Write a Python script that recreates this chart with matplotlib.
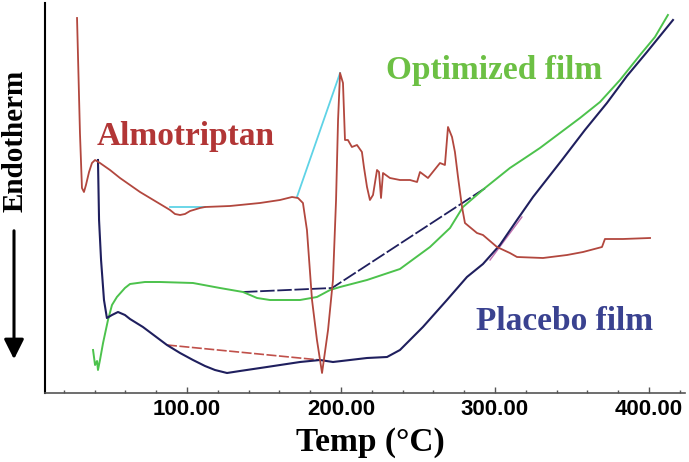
import matplotlib
matplotlib.use("Agg")
import matplotlib.pyplot as plt

# ---------------- data (temperature in °C, heat flow in arbitrary units) -------------
almo_T = [28.6, 30.5, 31.8, 33.1, 34.4, 36.4, 38.3, 40.3, 43.5, 50.0, 56.5, 63.0, 69.5,
          76.0, 82.5, 89.0, 92.2, 95.5, 98.7, 102.0, 108.4, 111.7, 127.9, 147.4, 160.4,
          168.2, 172.1, 175.3, 177.9, 181.2, 184.4, 187.7, 191.6, 194.8, 196.8, 198.1,
          199.4, 201.3, 202.6, 204.5, 207.1, 210.4, 213.6, 214.9, 216.9, 218.8, 220.8,
          223.4, 224.7, 226.0, 227.3, 231.8, 238.3, 244.8, 249.4, 251.3, 256.5, 264.3,
          267.5, 269.5, 272.1, 274.0, 276.0, 278.6, 280.5, 288.3, 292.2, 301.3, 309.7,
          314.3, 331.2, 346.8, 357.2, 369.5, 371.4, 383.1, 400.7]
almo_H = [375, 260, 205, 201, 208, 221, 230, 233, 230, 223, 215, 208, 201,
          195, 189, 183, 179, 178, 179, 182, 185, 186, 187, 190, 193,
          196, 195, 190, 163, 93, 53, 20, 63, 113, 193, 273,
          320, 310, 253, 253, 246, 248, 241, 226, 206, 193, 198,
          223, 221, 195, 220, 215, 213, 213, 211, 221, 215, 230,
          228, 266, 256, 241, 216, 186, 170, 160, 158, 146, 140,
          136, 135, 138, 141, 146, 154, 154, 155]

opt_T = [39.0, 40.3, 41.6, 42.2, 43.5, 45.5, 48.7, 51.3, 54.5, 59.7, 63.0, 72.7, 82.5,
         103.9, 121.4, 136.4, 145.5, 153.9, 173.4, 184.4, 192.9, 199.4, 216.9, 238.3,
         257.8, 270.8, 279.2, 293.5, 309.7, 319.5, 329.2, 342.2, 355.2, 368.2, 381.2,
         394.2, 403.9, 412.3]
opt_H = [43, 28, 32, 23, 33, 50, 73, 88, 96, 105, 109, 111, 111,
         110, 105, 101, 95, 93, 93, 96, 103, 106, 113, 124,
         146, 165, 186, 205, 225, 235, 245, 260, 275, 291, 313,
         338, 356, 378]

plac_T = [42.2, 42.9, 44.2, 46.1, 48.0, 51.3, 55.2, 59.7, 63.0, 71.4, 79.2, 87.0, 95.5,
          103.9, 111.7, 118.2, 126.0, 134.4, 151.9, 173.4, 186.4, 194.8, 216.9, 229.9,
          238.3, 253.2, 268.8, 281.8, 292.2, 303.2, 314.3, 324.7, 343.5, 358.4, 372.7,
          385.7, 398.7, 415.6]
plac_H = [233, 173, 133, 93, 75, 78, 81, 78, 74, 66, 57, 48, 40,
          33, 27, 23, 20, 22, 26, 31, 33, 31, 35, 36,
          43, 66, 93, 116, 129, 148, 173, 196, 233, 263, 290,
          317, 341, 373]

# software baseline / integration lines
opt_base_T = [136.4, 194.2, 294.8]
opt_base_H = [101, 105, 206]
plac_base_T = [87.0, 186.4]
plac_base_H = [48, 33]
almo_base1_T = [89.0, 111.7]
almo_base1_H = [186, 186]
almo_base2_T = [171.4, 199.4]
almo_base2_H = [196, 320]
plac_base2_T = [296.8, 317.5]
plac_base2_H = [133, 176]

major_ticks = [100, 200, 300, 400]
major_labels = ["100.00", "200.00", "300.00", "400.00"]
minor_ticks = list(range(20, 440, 20))

# ---------------- figure ----------------
W, H = 689, 462
fig = plt.figure(figsize=(W / 100, H / 100), dpi=100)
ax = fig.add_axes([45 / W, (H - 393) / H, 640 / W, 390 / H])

RED = "#b2473e"
GREEN = "#4cc24c"
NAVY = "#1f1f5e"
CYAN = "#5fd3e6"

ax.plot(almo_base1_T, almo_base1_H, color=CYAN, lw=1.3)
ax.plot(almo_base2_T, almo_base2_H, color=CYAN, lw=1.3)
ax.plot(plac_base_T, plac_base_H, color="#c0504a", lw=1.2, ls=(0, (6, 1.5)))
ax.plot(plac_base2_T, plac_base2_H, color="#c070b0", lw=1.0)
ax.plot(opt_base_T, opt_base_H, color=NAVY, lw=1.3, ls=(0, (8, 1.5)))

ax.plot(opt_T, opt_H, color=GREEN, lw=1.4)
ax.plot(plac_T, plac_H, color=NAVY, lw=1.5)
ax.plot(almo_T, almo_H, color=RED, lw=1.3)

ax.text(99.4, 256, "Almotriptan", color="#b23636", fontsize=24, fontweight="bold",
        family="Liberation Serif", ha="center", va="center")
ax.text(299.4, 322, "Optimized film", color="#6cc044", fontsize=24, fontweight="bold",
        family="Liberation Serif", ha="center", va="center")
ax.text(345.5, 71, "Placebo film", color="#3a4290", fontsize=24, fontweight="bold",
        family="Liberation Serif", ha="center", va="center")

ax.set_xlim(7.8, 423.4)
ax.set_ylim(0, 390)
ax.set_xticks(major_ticks)
ax.set_xticklabels(major_labels)
ax.set_xticks(minor_ticks, minor=True)
ax.set_yticks([])
for lbl in ax.get_xticklabels():
    lbl.set_fontfamily("Liberation Sans")
    lbl.set_fontweight("bold")
    lbl.set_fontsize(16)
ax.tick_params(axis="x", which="major", direction="in", length=4, width=1,
               color="#555555", pad=4)
ax.tick_params(axis="x", which="minor", direction="in", length=2, width=1,
               color="#555555")
ax.spines["top"].set_visible(False)
ax.spines["right"].set_visible(False)
ax.spines["bottom"].set_color("#555555")
ax.spines["bottom"].set_linewidth(1.2)
ax.spines["left"].set_color("black")
ax.spines["left"].set_linewidth(1.5)

fig.text(370 / W, 1 - 442 / H, "Temp (°C)", fontsize=24, fontweight="bold",
         family="Liberation Serif", ha="center", va="center")
fig.text(15 / W, 1 - 141 / H, "Endotherm", fontsize=21, fontweight="bold",
         family="Liberation Serif", ha="center", va="center", rotation=90)
fig.add_artist(matplotlib.patches.FancyArrowPatch(
    (14 / W, 1 - 228 / H), (14 / W, 1 - 362 / H), transform=fig.transFigure,
    arrowstyle="-|>,head_length=6,head_width=3", color="black", lw=2.2,
    mutation_scale=2))

fig.savefig("out.png", dpi=100)
